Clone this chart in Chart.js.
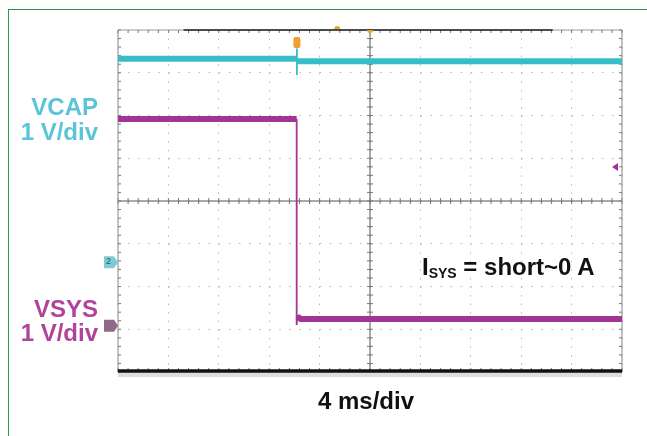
<!DOCTYPE html>
<html><head><meta charset="utf-8">
<script src="https://cdn.jsdelivr.net/npm/chart.js@4.4.1/dist/chart.umd.min.js"></script>
<style>
html,body{margin:0;padding:0;background:#fff;}
#wrap{position:relative;width:647px;height:436px;overflow:hidden;background:#fff;}
#c{position:absolute;left:0;top:0;}
#frame{position:absolute;left:8px;top:9px;width:700px;height:500px;border-top:1.5px solid #2a8f4e;border-left:1.5px solid #2a9a4e;}
.lbl{position:absolute;font-family:"Liberation Sans",Arial,sans-serif;font-weight:bold;font-size:24px;line-height:24px;white-space:nowrap;}
.r{text-align:right;width:120px;}
.tag{position:absolute;font-family:"Liberation Sans",Arial,sans-serif;font-size:9px;line-height:9px;color:#2d5d66;}
</style></head><body>
<div id="wrap">
<div id="frame"></div>
<canvas id="c" width="647" height="436"></canvas>
<div class="lbl r" style="left:-22px;top:94.7px;color:#5cc4d8;">VCAP</div>
<div class="lbl r" style="left:-22px;top:119.7px;color:#5cc4d8;">1 V/div</div>
<div class="lbl r" style="left:-22px;top:296.7px;color:#b0449c;">VSYS</div>
<div class="lbl r" style="left:-22px;top:320.7px;color:#b0449c;">1 V/div</div>
<div class="lbl" style="left:318px;top:388.7px;color:#111;">4 ms/div</div>
<div class="lbl" style="left:422px;top:254.7px;color:#111;">I<span style="font-size:14px;position:relative;top:3px;">SYS</span> = short~0 A</div>
<div class="tag" style="left:106px;top:257px;">2</div>
</div>
<script>
// ---- data (time in ms, 4 ms/div; voltages in V, 1 V/div) ----
const timeRange = [-20, 20];
const divRange = [-4, 4];
const vcapGroundDiv = -1.43;   // channel 2 ground marker (divisions)
const vsysGroundDiv = -2.92;   // channel 1 ground marker (divisions)
const vcapTime  = [-20, -5.8, -5.8, -5.8, -5.8, 20];
const vcapVolts = [4.76, 4.76, 5.00, 4.38, 4.70, 4.70];
const vsysTime  = [-20, -5.82, -5.82, -5.78, -5.5, 20];
const vsysVolts = [4.84, 4.84, 0.02, 0.22, 0.16, 0.16];
const triggerTime = -5.8;
const triggerLevelDiv = 0.795;

const toPts = (t, v, off) => t.map((x, i) => ({x, y: v[i] + off}));
const steepThin = w => c => (Math.abs(c.p1.y - c.p0.y) > Math.abs(c.p1.x - c.p0.x) ? 1.8 : w);
const steepHide = c => (Math.abs(c.p1.y - c.p0.y) > Math.abs(c.p1.x - c.p0.x) ? 'rgba(0,0,0,0)' : undefined);

const deco = {
  id: 'deco',
  beforeDatasetsDraw(chart) {
    const {ctx, chartArea: a, scales: {x, y}} = chart;
    const L = (x1, y1, x2, y2) => { ctx.beginPath(); ctx.moveTo(x1, y1); ctx.lineTo(x2, y2); ctx.stroke(); };
    ctx.save();
    const cx = x.getPixelForValue(0), cy = y.getPixelForValue(0);
    ctx.strokeStyle = '#555'; ctx.lineWidth = 1;
    L(cx, a.top, cx, a.bottom); L(a.left, cy, a.right, cy);
    ctx.strokeStyle = '#777';
    for (let i = 0; i <= 50; i++) {
      const px = x.getPixelForValue(timeRange[0] + i * 0.8);
      L(px, cy - 3, px, cy + 3);
      L(px, a.top, px, a.top + 3);
      L(px, a.bottom - 4, px, a.bottom);
    }
    for (let i = 0; i <= 40; i++) {
      const py = y.getPixelForValue(divRange[0] + i * 0.2);
      L(cx - 3, py, cx + 3, py);
      L(a.left, py, a.left + 3, py);
      L(a.right - 3, py, a.right, py);
    }
    ctx.strokeStyle = '#999'; ctx.lineWidth = 1.2;
    L(a.left, a.top, a.left, a.bottom); L(a.right, a.top, a.right, a.bottom);
    L(a.left, a.top, a.right, a.top);
    ctx.strokeStyle = '#222'; ctx.lineWidth = 1.5;
    L(x.getPixelForValue(-14.8), a.top, x.getPixelForValue(14.5), a.top);
    ctx.fillStyle = '#ddd'; ctx.fillRect(a.left, a.bottom, a.right - a.left, 5);
    ctx.strokeStyle = '#111'; ctx.lineWidth = 3.5;
    L(a.left, a.bottom - 1, a.right, a.bottom - 1);
    ctx.restore();
  },
  afterDatasetsDraw(chart) {
    const {ctx, chartArea: a, scales: {x, y}} = chart;
    ctx.save();
    const tx = x.getPixelForValue(triggerTime);
    ctx.fillStyle = '#f0a030';
    ctx.beginPath(); ctx.roundRect(tx - 3.5, a.top + 7, 7, 11, 2); ctx.fill();
    ctx.beginPath(); ctx.arc(x.getPixelForValue(0), a.top, 3, 0, Math.PI); ctx.fill();
    ctx.beginPath(); ctx.arc(x.getPixelForValue(-2.6), a.top - 1, 3, Math.PI, 2 * Math.PI); ctx.fill();
    const tag = (yy, col) => {
      const py = y.getPixelForValue(yy);
      ctx.fillStyle = col; ctx.beginPath();
      ctx.moveTo(a.left - 14, py - 6); ctx.lineTo(a.left - 4, py - 6); ctx.lineTo(a.left, py);
      ctx.lineTo(a.left - 4, py + 6); ctx.lineTo(a.left - 14, py + 6); ctx.closePath(); ctx.fill();
    };
    tag(vcapGroundDiv, '#7ccbd6');
    tag(vsysGroundDiv, '#8e6a8a');
    const ly = y.getPixelForValue(triggerLevelDiv);
    ctx.fillStyle = '#a0309a'; ctx.beginPath();
    ctx.moveTo(a.right - 10, ly); ctx.lineTo(a.right - 4, ly - 4); ctx.lineTo(a.right - 4, ly + 4); ctx.closePath(); ctx.fill();
    ctx.restore();
  }
};

new Chart(document.getElementById('c'), {
  type: 'line',
  data: {
    datasets: [
      {label: 'VCAP', data: toPts(vcapTime, vcapVolts, vcapGroundDiv), borderColor: '#38bcc6',
       borderWidth: 6, borderCapStyle: 'butt', pointRadius: 0, tension: 0, segment: {borderWidth: steepThin(6)}},
      {label: 'VCAP noise', data: toPts(vcapTime, vcapVolts, vcapGroundDiv - 0.03), borderColor: '#14959f',
       borderWidth: 1.5, borderDash: [5, 3, 2, 4], borderCapStyle: 'butt', pointRadius: 0, tension: 0,
       segment: {borderColor: steepHide}},
      {label: 'VSYS', data: toPts(vsysTime, vsysVolts, vsysGroundDiv), borderColor: '#a03596',
       borderWidth: 6, borderCapStyle: 'butt', pointRadius: 0, tension: 0, segment: {borderWidth: steepThin(6)}},
      {label: 'VSYS noise', data: toPts(vsysTime, vsysVolts, vsysGroundDiv + 0.02), borderColor: '#7e1e74',
       borderWidth: 1.2, borderDash: [3, 4, 6, 2], borderCapStyle: 'butt', pointRadius: 0, tension: 0,
       segment: {borderColor: steepHide}}
    ]
  },
  options: {
    responsive: false, animation: false, devicePixelRatio: 1,
    layout: {padding: {left: 118, right: 25, top: 30, bottom: 64}},
    plugins: {legend: {display: false}, tooltip: {enabled: false}},
    scales: {
      x: {type: 'linear', min: timeRange[0], max: timeRange[1],
          ticks: {display: false, stepSize: 4}, grid: {drawTicks: false, color: '#b8b8b8', lineWidth: 1},
          border: {display: false, dash: [1.5, 7.05]}},
      y: {type: 'linear', min: divRange[0], max: divRange[1],
          ticks: {display: false, stepSize: 1}, grid: {drawTicks: false, color: '#b8b8b8', lineWidth: 1},
          border: {display: false, dash: [1.5, 8.58]}}
    }
  },
  plugins: [deco]
});
</script>
</body></html>
